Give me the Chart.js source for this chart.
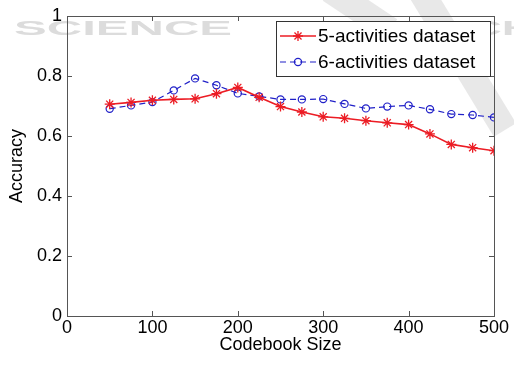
<!DOCTYPE html>
<html>
<head>
<meta charset="utf-8">
<script src="https://cdn.jsdelivr.net/npm/chart.js@4/dist/chart.umd.min.js"></script>
<style>
  html, body { margin: 0; padding: 0; background: #fff; }
  #box { width: 514px; height: 365px; }
</style>
</head>
<body>
<div id="box"><canvas id="grafico" width="514" height="365"></canvas></div>
<script>
//datos
const tamanos = [50, 75, 100, 125, 150, 175, 200, 225, 250, 275, 300, 325, 350, 375, 400, 425, 450, 475, 500]
const cinco = [0.706, 0.712, 0.719, 0.722, 0.724, 0.741, 0.762, 0.729, 0.698, 0.680, 0.664, 0.659, 0.651, 0.644, 0.638, 0.607, 0.572, 0.561, 0.551]
const seis = [0.691, 0.702, 0.713, 0.752, 0.792, 0.769, 0.742, 0.732, 0.722, 0.722, 0.723, 0.707, 0.692, 0.698, 0.702, 0.689, 0.673, 0.670, 0.662]
const xTicks = [0, 100, 200, 300, 400, 500]
const yTicks = [0, 0.2, 0.4, 0.6, 0.8, 1]
const yLabels = ['0', '0.2', '0.4', '0.6', '0.8', '1']
const series = ['5-activities dataset', '6-activities dataset']

const fuente = 'Arial, "Liberation Sans", sans-serif'
const rojo = '#ec1c24'
const azul = '#2020c8'

function puntos(ys) {
  return tamanos.map((x, i) => ({ x: x, y: ys[i] }))
}

//marca de agua + fondo
const fondo = {
  id: 'fondo',
  beforeDraw(chart) {
    const ctx = chart.ctx
    ctx.save()
    ctx.fillStyle = '#fff'
    ctx.fillRect(0, 0, chart.width, chart.height)
    // banda diagonal gris
    ctx.strokeStyle = 'rgba(205,205,205,0.45)'
    ctx.lineWidth = 26
    ctx.beginPath()
    ctx.moveTo(420, -10)
    ctx.lineTo(505, 130)
    ctx.stroke()
    ctx.beginPath()
    ctx.moveTo(330, -10)
    ctx.lineTo(390, 30)
    ctx.stroke()
    // texto
    ctx.fillStyle = '#dcdcdc'
    ctx.font = 'bold 20px ' + fuente
    ctx.textBaseline = 'middle'
    const palabras = [['SCIENCE', 14, 218], ['AND', 276, 96], ['TECH', 410, 125]]
    palabras.forEach(p => {
      const w = ctx.measureText(p[0]).width
      ctx.save()
      ctx.translate(p[1], 29)
      ctx.scale(p[2] / w, 1)
      ctx.fillText(p[0], 0, 0)
      ctx.restore()
    })
    ctx.restore()
  }
}

//caja y ticks hacia adentro
const caja = {
  id: 'caja',
  afterDatasetsDraw(chart) {
    const ctx = chart.ctx
    const a = chart.chartArea
    const sx = chart.scales.x
    const sy = chart.scales.y
    ctx.save()
    ctx.strokeStyle = '#555'
    ctx.lineWidth = 1
    ctx.strokeRect(a.left + 0.5, a.top + 0.5, a.right - a.left, a.bottom - a.top)
    ctx.beginPath()
    xTicks.forEach(v => {
      const px = Math.round(sx.getPixelForValue(v)) + 0.5
      ctx.moveTo(px, a.bottom); ctx.lineTo(px, a.bottom - 5)
      ctx.moveTo(px, a.top); ctx.lineTo(px, a.top + 5)
    })
    yTicks.forEach(v => {
      const py = Math.round(sy.getPixelForValue(v)) + 0.5
      ctx.moveTo(a.left, py); ctx.lineTo(a.left + 5, py)
      ctx.moveTo(a.right, py); ctx.lineTo(a.right - 5, py)
    })
    ctx.stroke()
    ctx.restore()
  }
}

//leyenda estilo matlab
const leyenda = {
  id: 'leyenda',
  afterDraw(chart) {
    const ctx = chart.ctx
    const x0 = 276, y0 = 21, w = 214, h = 55
    ctx.save()
    ctx.fillStyle = '#fff'
    ctx.fillRect(x0, y0, w, h)
    ctx.strokeStyle = '#333'
    ctx.lineWidth = 1
    ctx.strokeRect(x0 + 0.5, y0 + 0.5, w, h)
    chart.data.datasets.forEach((ds, i) => {
      const yy = y0 + 15 + i * 26
      ctx.strokeStyle = ds.borderColor
      ctx.lineWidth = ds.borderWidth
      ctx.setLineDash(ds.borderDash || [])
      ctx.beginPath()
      ctx.moveTo(x0 + 4, yy)
      ctx.lineTo(x0 + 40, yy)
      ctx.stroke()
      ctx.setLineDash([])
      const cx = x0 + 22
      const r = ds.pointRadius
      ctx.lineWidth = ds.pointBorderWidth
      ctx.beginPath()
      if (ds.pointStyle === 'star') {
        for (let k = 0; k < 4; k++) {
          const ang = k * Math.PI / 4
          ctx.moveTo(cx - r * Math.cos(ang), yy - r * Math.sin(ang))
          ctx.lineTo(cx + r * Math.cos(ang), yy + r * Math.sin(ang))
        }
      } else {
        ctx.arc(cx, yy, r, 0, Math.PI * 2)
      }
      ctx.stroke()
      ctx.fillStyle = '#000'
      ctx.font = '19px ' + fuente
      ctx.textBaseline = 'middle'
      ctx.fillText(ds.label, x0 + 42, yy + 1)
    })
    ctx.restore()
  }
}

const config = {
  type: 'line',
  data: {
    datasets: [
      {
        label: series[0],
        data: puntos(cinco),
        borderColor: rojo,
        borderWidth: 1.6,
        pointStyle: 'star',
        pointRadius: 5,
        pointBorderWidth: 1.3,
        pointBorderColor: rojo,
        pointBackgroundColor: rojo,
        tension: 0
      },
      {
        label: series[1],
        data: puntos(seis),
        borderColor: azul,
        borderWidth: 1.2,
        borderDash: [6, 4],
        pointStyle: 'circle',
        pointRadius: 3.6,
        pointBorderWidth: 1.2,
        pointBorderColor: azul,
        pointBackgroundColor: 'rgba(0,0,0,0)',
        tension: 0
      }
    ]
  },
  options: {
    responsive: false,
    animation: false,
    devicePixelRatio: 1,
    layout: { padding: { left: 6, right: 20, top: 16, bottom: 9 } },
    plugins: {
      legend: { display: false },
      tooltip: { enabled: false }
    },
    scales: {
      x: {
        type: 'linear',
        min: 0,
        max: 500,
        afterBuildTicks: s => { s.ticks = xTicks.map(v => ({ value: v })) },
        afterFit: s => { s.height = 40 },
        grid: { display: false, drawTicks: false },
        border: { display: false },
        ticks: { color: '#000', padding: 1, maxRotation: 0, font: { family: fuente, size: 18 } },
        title: { display: true, text: 'Codebook Size', color: '#000', padding: { top: 0, bottom: 0 }, font: { family: fuente, size: 18 } }
      },
      y: {
        min: 0,
        max: 1,
        afterBuildTicks: s => { s.ticks = yTicks.map(v => ({ value: v })) },
        afterFit: s => { s.width = 61 },
        grid: { display: false, drawTicks: false },
        border: { display: false },
        ticks: {
          color: '#000',
          padding: 5,
          font: { family: fuente, size: 18 },
          callback: (v) => yLabels[yTicks.indexOf(Math.round(v * 10) / 10)]
        },
        title: { display: true, text: 'Accuracy', color: '#000', padding: { top: 0, bottom: 0 }, font: { family: fuente, size: 18 } }
      }
    }
  },
  plugins: [fondo, caja, leyenda]
}

new Chart(document.getElementById('grafico'), config)
</script>
</body>
</html>
